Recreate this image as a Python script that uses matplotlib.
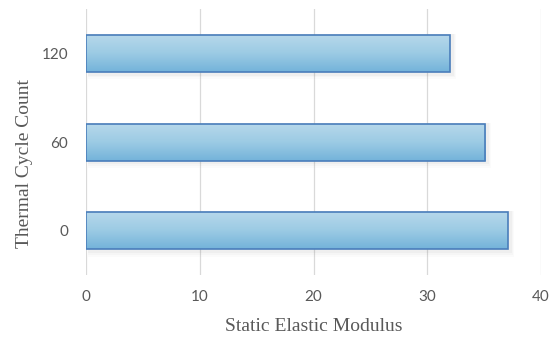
import numpy as np
import matplotlib.pyplot as plt
from matplotlib.patches import Rectangle

cycles = ["0", "60", "120"]
modulus = [37.1, 35.1, 32.0]

fig = plt.figure(figsize=(5.6, 3.38), dpi=100)
ax = fig.add_axes([0.154, 0.186, 0.812, 0.787])

bars = ax.barh(cycles, modulus, height=0.42, color="none",
               edgecolor="#4a7ebb", linewidth=1.2, zorder=3)

# vertical gradient fill + soft shadow for each bar
grad = np.linspace(0, 1, 64).reshape(-1, 1)
cmap = plt.matplotlib.colors.LinearSegmentedColormap.from_list(
    "bluegrad", ["#b7d8eb", "#9ccbe4", "#74b3da"])
for b in bars:
    x0, y0, w, h = b.get_x(), b.get_y(), b.get_width(), b.get_height()
    for k, a in enumerate([0.06, 0.04, 0.025]):
        d = 0.12 * (k + 1)
        sh = Rectangle((x0 + 0.15, y0 - 0.04 - 0.02 * k), w + 0.1 + d * 0.8, h + 0.05 + 0.02 * k,
                       facecolor="#7f7f7f", edgecolor="none", alpha=a, zorder=1)
        ax.add_patch(sh)
    im = ax.imshow(grad, cmap=cmap, aspect="auto", origin="upper",
                   extent=(x0, x0 + w, y0, y0 + h), zorder=2)
    im.set_clip_path(b)

ax.set_xlim(0, 40)
ax.set_ylim(-0.5, 2.5)
ax.set_xticks([0, 10, 20, 30, 40])
ax.grid(axis="x", color="#d9d9d9", linewidth=0.9, zorder=0)
ax.set_axisbelow(True)
for s in ax.spines.values():
    s.set_visible(False)
ax.tick_params(length=0, colors="#595959", labelsize=11)
ax.tick_params(axis="y", pad=13)
ax.tick_params(axis="x", pad=11)
for lab in ax.get_xticklabels() + ax.get_yticklabels():
    lab.set_family("Lato")

ax.set_xlabel("Static Elastic Modulus", family="Liberation Serif", fontsize=14,
              color="#595959")
ax.set_ylabel("Thermal Cycle Count", family="Liberation Serif", fontsize=14,
              color="#595959")
ax.xaxis.set_label_coords(0.5, -0.16)
ax.yaxis.set_label_coords(-0.116, 0.42)

fig.savefig("out.png", dpi=100)
